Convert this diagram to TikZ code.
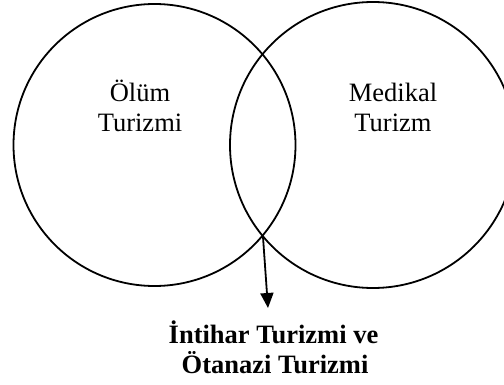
\documentclass[tikz,border=0pt]{standalone}
\usepackage{fontspec}
\setmainfont{Liberation Serif}
\usetikzlibrary{arrows.meta}
\begin{document}
\begin{tikzpicture}[x=1pt,y=-1pt,
  venn/.style={circle,draw,line width=1.8pt,inner sep=0pt},
  lbl/.style={anchor=base,inner sep=0pt,font=\fontsize{26.5}{30}\selectfont},
  blbl/.style={anchor=base,inner sep=0pt,font=\fontsize{26.5}{30}\selectfont\bfseries},
  arr/.style={line width=1.8pt,-{Triangle[length=15pt,width=13pt]}}]
\path[use as bounding box] (0,0) rectangle (504,385);
\begin{scope}
\clip (0,0) rectangle (504,385);
\node[venn,minimum size=282pt] (L) at (154.5,145) {};
\node[venn,minimum size=286pt] (R) at (373,145) {};
\end{scope}
\node[lbl] (lt1) at (140,101.5) {Ölüm};
\node[lbl] (lt2) at (140,132) {Turizmi};
\node[lbl] (rt1) at (393,101.5) {Medikal};
\node[lbl] (rt2) at (393,132) {Turizm};
\coordinate (x) at (263,237);
\coordinate (tip) at (268,308);
\node[blbl] (bt1) at (273.5,343) {İntihar Turizmi ve};
\node[blbl] (bt2) at (275,373) {Ötanazi Turizmi};
\draw[arr] (x) -- (tip);
\end{tikzpicture}
\end{document}
